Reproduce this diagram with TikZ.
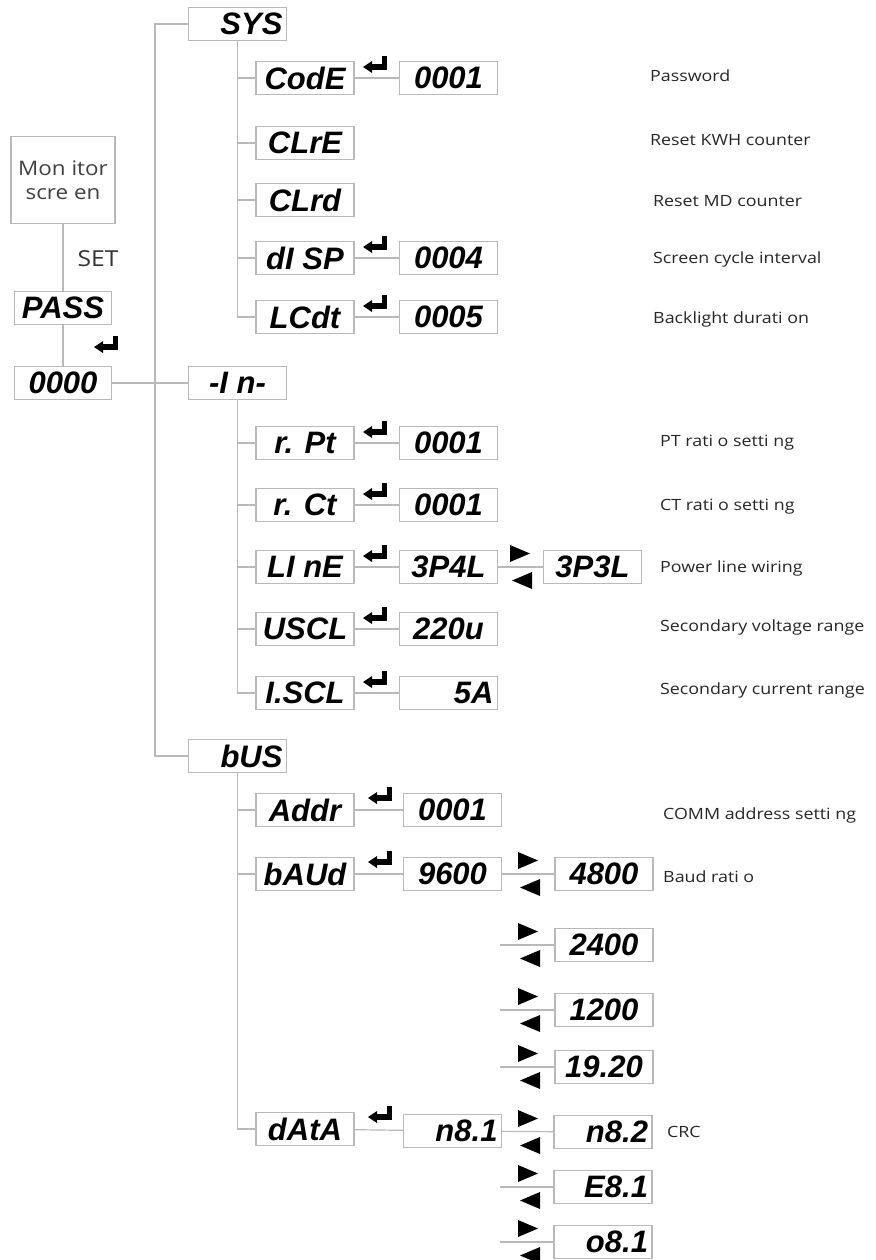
\documentclass[tikz,border=0pt]{standalone}
\usepackage{fontspec}
\setmainfont{Open Sans}
\newfontfamily\lcdfont{Liberation Sans}
\newfontfamily\descfont[FakeStretch=1.15]{Open Sans}
\newfontfamily\monfont[FakeStretch=1.12]{Open Sans}
\usetikzlibrary{calc}
\tikzset{
  lcd/.style={draw=gray!55, line width=1.2pt, fill=white, minimum width=98pt, minimum height=33pt,
    inner sep=0pt, font=\lcdfont\bfseries\itshape\fontsize{31}{31}\selectfont},
  lcdr/.style={lcd, text width=90pt, align=right},
  conn/.style={draw=gray!55, line width=1.2pt},
  desc/.style={anchor=west, inner sep=0pt, text=black!85, font=\descfont\fontsize{15.5}{15.5}\selectfont},
  retmark/.pic={
    \fill (-13,2) -- (-4,-4) -- (-4,8) -- cycle;
    \fill (-4,-1) rectangle (11,5);
    \fill (6,-9) rectangle (11,5);
  },
  swapmark/.pic={
    \fill (-11,-22) -- (-11,-5) -- (9,-13.5) -- cycle;
    \fill (11,5) -- (11,22) -- (-9,13.5) -- cycle;
  }
}
\begin{document}
\begin{tikzpicture}[x=1pt,y=-1pt]
\useasboundingbox (0,0) rectangle (875,1260);

% left column
\node[draw=gray!55, line width=1.2pt, minimum width=104pt, minimum height=87pt, inner sep=0pt,
  align=center, text=black!75, font=\monfont\fontsize{20}{24}\selectfont] (mon) at (63,180) {Mon itor\\scre en};
\node[inner sep=0pt, text=black!80, font=\monfont\fontsize{22}{22}\selectfont] (setl) at (98,259) {SET};
\node[lcd, minimum width=97pt] (pass) at (63,308) {PASS};
\node[lcd, minimum width=97pt] (zero) at (63,383) {0000};
\pic at (107,345) {retmark};
\draw[conn] (mon) -- (pass);
\draw[conn] (pass) -- (zero);

% top level
\node[lcdr] (sys) at (237.5,24) {SYS};
\node[lcd] (inn) at (237.5,383) {-I n-};
\node[lcdr] (bus) at (237.5,756) {bUS};
\coordinate (tk) at (155,0);
\draw[conn] (sys.west) -| (tk |- bus.west) -- (bus.west);
\draw[conn] (zero.east) -- (inn.west);

% SYS branch
\node[lcd] (code) at (305,78) {CodE};
\node[lcd] (clre) at (305,143) {CLrE};
\node[lcd] (clrd) at (305,200) {CLrd};
\node[lcd] (disp) at (305,258) {dI SP};
\node[lcd] (lcdt) at (305,317) {LCdt};
\node[lcd] (vcode) at (448.5,78) {0001};
\node[lcd] (vdisp) at (448.5,258) {0004};
\node[lcd] (vlcdt) at (448.5,317) {0005};
\draw[conn] (sys.south) |- (lcdt.west);
\foreach \n in {code,clre,clrd,disp} \draw[conn] (sys.south |- \n.west) -- (\n.west);
\draw[conn] (code) -- (vcode);
\draw[conn] (disp) -- (vdisp);
\draw[conn] (lcdt) -- (vlcdt);
\pic at (376,65) {retmark};
\pic at (376,245) {retmark};
\pic at (376,304) {retmark};

\node[desc] (d1) at (650,76) {Password};
\node[desc] (d2) at (650,140) {Reset KWH counter};
\node[desc] (d3) at (653,201) {Reset MD counter};
\node[desc] (d4) at (653,259) {Screen cycle interval};
\node[desc] (d5) at (653,319) {Backlight durati on};

% -In- branch
\node[lcd] (rpt) at (305,443) {r. Pt};
\node[lcd] (rct) at (305,505) {r. Ct};
\node[lcd] (line) at (305,567) {LI nE};
\node[lcd] (uscl) at (305,629) {USCL};
\node[lcd] (iscl) at (305,693) {I.SCL};
\node[lcd] (vrpt) at (448.5,443) {0001};
\node[lcd] (vrct) at (448.5,505) {0001};
\node[lcd] (vline) at (448.5,567) {3P4L};
\node[lcd] (vline2) at (592.5,567) {3P3L};
\node[lcd] (vuscl) at (448.5,629) {220u};
\node[lcdr] (viscl) at (448.5,693) {5A};
\draw[conn] (inn.south) |- (iscl.west);
\foreach \n in {rpt,rct,line,uscl} \draw[conn] (inn.south |- \n.west) -- (\n.west);
\draw[conn] (rpt) -- (vrpt);
\draw[conn] (rct) -- (vrct);
\draw[conn] (line) -- (vline);
\draw[conn] (vline) -- (vline2);
\draw[conn] (uscl) -- (vuscl);
\draw[conn] (iscl) -- (viscl);
\foreach \y in {443,505,567,629,693} \pic at (376,\y-13) {retmark};
\pic at (521,567) {swapmark};

\node[desc] (d6) at (660,443) {PT rati o setti ng};
\node[desc] (d7) at (660,507) {CT rati o setti ng};
\node[desc] (d8) at (660,568) {Power line wiring};
\node[desc] (d9) at (660,627) {Secondary voltage range};
\node[desc] (d10) at (660,690) {Secondary current range};

% bUS branch
\node[lcd] (addr) at (305,810) {Addr};
\node[lcd] (baud) at (305,874) {bAUd};
\node[lcd] (data) at (305,1129) {dAtA};
\node[lcd] (vaddr) at (452.5,810) {0001};
\node[lcd] (vbaud) at (452.5,874) {9600};
\node[lcdr] (vdata) at (452.5,1131) {n8.1};
\node[lcd] (b48) at (604,874) {4800};
\node[lcd] (b24) at (604,945) {2400};
\node[lcd] (b12) at (604,1010) {1200};
\node[lcd] (b19) at (604,1067) {19.20};
\node[lcdr] (dn82) at (603,1132) {n8.2};
\node[lcdr] (de81) at (603,1187) {E8.1};
\node[lcdr] (do81) at (603,1242) {o8.1};
\draw[conn] (bus.south) |- (data.west);
\foreach \n in {addr,baud} \draw[conn] (bus.south |- \n.west) -- (\n.west);
\draw[conn] (addr) -- (vaddr);
\draw[conn] (baud) -- (vbaud);
\draw[conn] (data) -- (vdata);
\draw[conn] (vbaud) -- (b48);
\draw[conn] (vdata) -- (dn82);
\foreach \n in {b24,b12,b19,de81,do81} {
  \coordinate (s\n) at (500,0);
  \draw[conn] (s\n |- \n.west) -- (\n.west);
}
\pic at (381,796) {retmark};
\pic at (381,860) {retmark};
\pic at (381,1115) {retmark};
\foreach \y in {874,945,1010,1067,1132,1187,1242} \pic at (529,\y) {swapmark};

\node[desc] (d11) at (663,815) {COMM address setti ng};
\node[desc] (d12) at (663,877) {Baud rati o};
\node[desc] (d13) at (667,1132) {CRC};
\end{tikzpicture}
\end{document}
